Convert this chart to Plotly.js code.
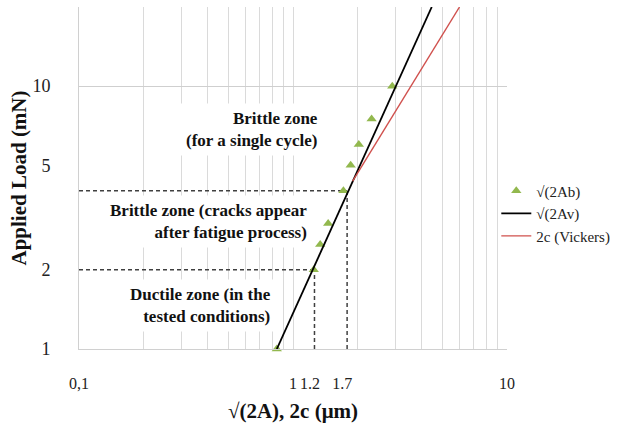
<!DOCTYPE html>
<html>
<head>
<meta charset="utf-8">
<script src="https://cdn.plot.ly/plotly-3.0.1.min.js"></script>
<style>html,body{margin:0;padding:0;background:#fff;}#chart{width:633px;height:427px;}</style>
</head>
<body>
<div id="chart"></div>
<script>
// √(2Ab) measurements (green triangles)
const sizesAb = [0.84, 1.25, 1.34, 1.46, 1.72, 1.86, 2.03, 2.33, 2.91];
const loadsAb = [1, 2, 2.5, 3, 4, 5, 6, 7.5, 10];
// √(2Av) fit line (black)
const sizesAv = [0.84, 4.45];
const loadsAv = [1, 20];
// 2c (Vickers) line (red)
const sizesC = [1.9, 6.0];
const loadsC = [4.35, 20];
// zone thresholds (dashed guides)
const thresholdLoads = [2, 4];
const thresholdSizes = [1.26, 1.79];
// tick labels
const xTickVals = [0.1, 1, 1.2, 1.7, 10];
const xTickText = ['0,1', '1', '1.2', '1.7', '10'];
const yTickVals = [1, 2, 5, 10];
const yTickText = ['1', '2', '5', '10'];
const seriesNames = ['√(2Ab)', '√(2Av)', '2c (Vickers)'];
const zoneTexts = [
  'Brittle zone<br>(for a single cycle)',
  'Brittle zone (cracks appear<br>after fatigue process)',
  'Ductile zone (in the<br>tested conditions)'
];

const xMin = 0.1, yMin = 1;
const serif = 'Liberation Serif, Times New Roman, serif';

// minor gridlines across the log decades
const xGrid = [];
for (let d = 0.1; d < 10; d *= 10) {
  for (let k = 1; k <= 9; k++) xGrid.push(+(k * d).toFixed(3));
}
xGrid.push(10);

const traces = [];
thresholdLoads.forEach((ld, i) => {
  traces.push({
    x: [xMin, thresholdSizes[i]], y: [ld, ld], mode: 'lines', showlegend: false, hoverinfo: 'skip',
    line: {color: '#404040', width: 1.5, dash: '4px,3px'}
  });
  traces.push({
    x: [thresholdSizes[i], thresholdSizes[i]], y: [yMin, ld], mode: 'lines', showlegend: false, hoverinfo: 'skip',
    line: {color: '#404040', width: 1.5, dash: '4px,3px'}
  });
});
traces.push({
  x: sizesAb, y: loadsAb, mode: 'markers', name: seriesNames[0], cliponaxis: false,
  marker: {symbol: 'triangle-up', size: 9, color: '#92b84e'}
});
traces.push({
  x: sizesAv, y: loadsAv, mode: 'lines', name: seriesNames[1],
  line: {color: '#000000', width: 1.8}
});
traces.push({
  x: sizesC, y: loadsC, mode: 'lines', name: seriesNames[2],
  line: {color: '#d0504d', width: 1.4}
});

const annPos = [[0.572, 0.641], [0.547, 0.372], [0.463, 0.1266]];
const annotations = zoneTexts.map((t, i) => ({
  text: t, xref: 'paper', yref: 'paper', x: annPos[i][0], y: annPos[i][1],
  xanchor: 'right', yanchor: 'middle', align: 'right', showarrow: false,
  bgcolor: '#ffffff', borderpad: 5,
  font: {family: serif, size: 17, color: '#111', weight: 'bold'}
}));

const layout = {
  width: 633, height: 427,
  margin: {l: 79, r: 126, t: 7, b: 78},
  paper_bgcolor: '#fff', plot_bgcolor: '#fff',
  font: {family: serif, color: '#222'},
  showlegend: true,
  legend: {
    x: 0.975, xanchor: 'left', y: 0.51, yanchor: 'top',
    bgcolor: 'rgba(0,0,0,0)', font: {family: serif, size: 15, color: '#222'},
    tracegroupgap: 0, itemwidth: 30
  },
  xaxis: {
    type: 'log', range: [-1, 1], tickmode: 'array', tickvals: xTickVals, ticktext: xTickText,
    tickangle: 0,
    showgrid: false, zeroline: false, ticks: '', ticklabelstandoff: 20,
    tickfont: {family: serif, size: 16, color: '#222'},
    showline: true, linecolor: '#d0d0d0', linewidth: 1,
    minor: {tickmode: 'array', tickvals: xGrid, showgrid: true, gridcolor: '#dadada', gridwidth: 1, ticks: ''},
    title: {text: '√(2A), 2c (μm)', font: {family: serif, size: 21, color: '#111', weight: 'bold'}, standoff: 12},
    automargin: false
  },
  yaxis: {
    type: 'log', range: [0, Math.log10(20)], tickmode: 'array', tickvals: yTickVals, ticktext: yTickText,
    showgrid: false, zeroline: false, ticks: '', ticklabelstandoff: 24,
    tickfont: {family: serif, size: 18, color: '#222'},
    showline: true, linecolor: '#d0d0d0', linewidth: 1,
    minor: {tickmode: 'array', tickvals: [10], showgrid: true, gridcolor: '#cfcfcf', gridwidth: 1, ticks: ''},
    title: {text: 'Applied Load (mN)', font: {family: serif, size: 21, color: '#111', weight: 'bold'}, standoff: 0},
    automargin: false
  },
  annotations: annotations
};

Plotly.newPlot('chart', traces, layout, {displayModeBar: false, staticPlot: true});
</script>
</body>
</html>
